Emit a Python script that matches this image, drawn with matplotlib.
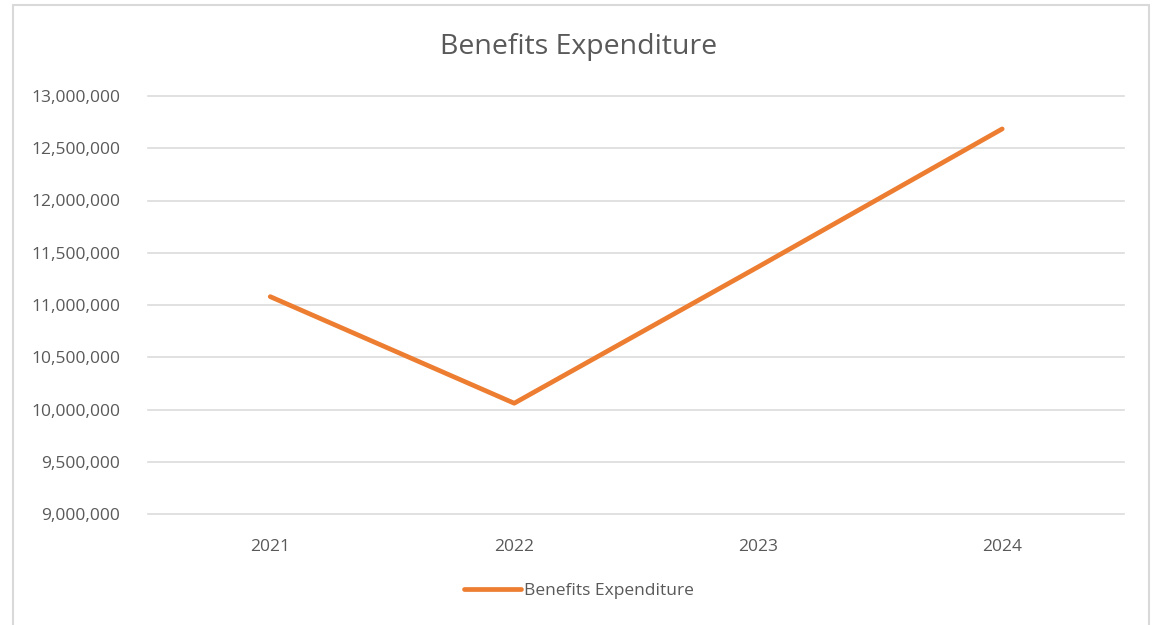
import matplotlib
matplotlib.use("Agg")
import matplotlib.pyplot as plt
from matplotlib.patches import Rectangle
from matplotlib.ticker import FuncFormatter, MultipleLocator

years = ["2021", "2022", "2023", "2024"]
benefits = [11080000, 10060000, 11365000, 12685000]

plt.rcParams['font.family'] = ['Open Sans', 'DejaVu Sans']
text_color = "#595959"

fig = plt.figure(figsize=(11.58, 6.25), dpi=100)
ax = fig.add_axes([0.128, 0.1776, 0.8428, 0.6688])

# chart area border
fig.patches.append(Rectangle((13 / 1158, -0.01), (1149 - 13) / 1158, 1 - 5 / 625 + 0.01,
                             transform=fig.transFigure, fill=False,
                             edgecolor="#d9d9d9", linewidth=1.5))

x = list(range(len(years)))
ax.plot(x, benefits, color="#ED7D31", linewidth=3.4, solid_capstyle="round",
        label="Benefits Expenditure", zorder=3)

ax.set_xlim(-0.5, len(years) - 0.5)
ax.set_ylim(9000000, 13000000)
ax.yaxis.set_major_locator(MultipleLocator(500000))
ax.yaxis.set_major_formatter(FuncFormatter(lambda v, p: f"{int(v):,}"))
ax.set_xticks(x, labels=years)

ax.grid(axis="y", color="#dcdcdc", linewidth=1.2)
for gl in ax.get_ygridlines():
    gl.set_clip_on(False)
ax.set_axisbelow(True)
for s in ax.spines.values():
    s.set_visible(False)
ax.tick_params(length=0, colors=text_color, labelsize=12.5)
ax.tick_params(axis="y", pad=20)
ax.tick_params(axis="x", pad=18)

fig.text(0.5, 1 - 47 / 625, "Benefits Expenditure", ha="center", va="center",
         fontsize=20.5, color=text_color)

leg = ax.legend(loc="center", bbox_to_anchor=(0.5, 1 - 591 / 625), bbox_transform=fig.transFigure,
                frameon=False, fontsize=12.5, handlelength=3.3, handletextpad=0.15)
for t in leg.get_texts():
    t.set_color(text_color)

fig.savefig("out.png", dpi=100, facecolor="white")
